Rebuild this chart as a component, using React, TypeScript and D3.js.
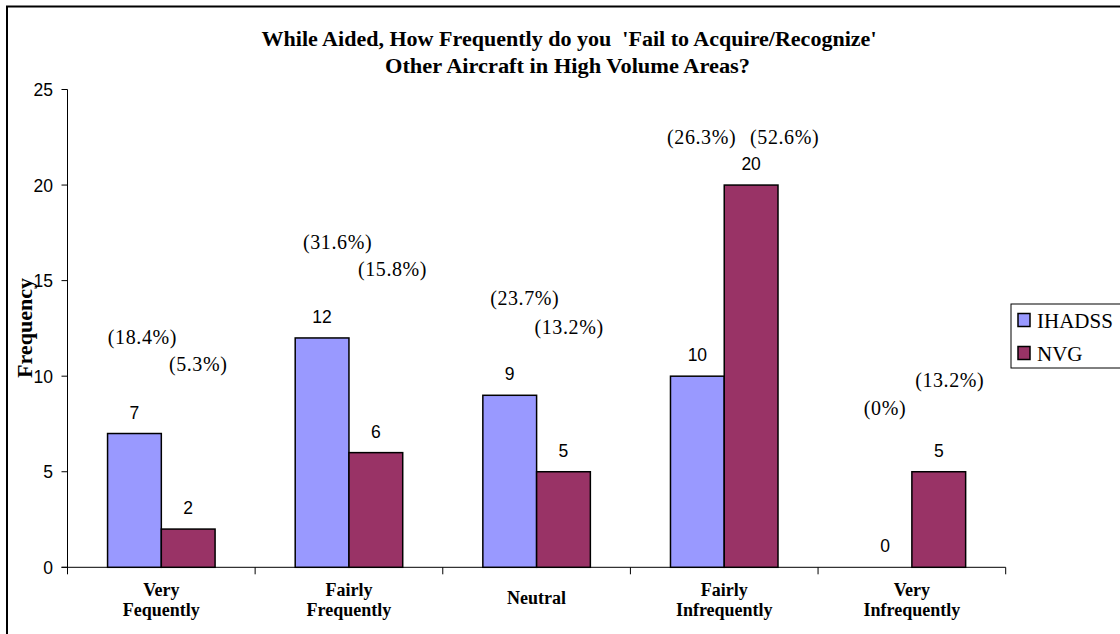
import React from "react";
import * as d3 from "d3";

const titleLines = [
  "While Aided, How Frequently do you\u00a0 'Fail to Acquire/Recognize'",
  "Other Aircraft in High Volume Areas?",
];
const categories = [
  ["Very", "Fequently"],
  ["Fairly", "Frequently"],
  ["Neutral"],
  ["Fairly", "Infrequently"],
  ["Very", "Infrequently"],
];
const seriesNames = ["IHADSS", "NVG"];
const seriesColors = ["#9999FF", "#993366"];
const ihadss = [7, 12, 9, 10, 0];
const nvg = [2, 6, 5, 20, 5];
const ihadssPct = ["(18.4%)", "(31.6%)", "(23.7%)", "(26.3%)", "(0%)"];
const nvgPct = ["(5.3%)", "(15.8%)", "(13.2%)", "(52.6%)", "(13.2%)"];
// heights (in frequency units) where the percentage annotations sit
const ihadssPctAt = [12.06, 17.03, 14.1, 22.53, 8.34];
const nvgPctAt = [10.63, 15.62, 12.58, 22.53, 9.81];
// horizontal nudges of the annotations from their bar centres
const ihadssPctShift = [8, 15.5, 15, 4.3, 0];
const nvgPctShift = [10, 16.7, 5.6, 33.5, 11];
const yTicks = [0, 5, 10, 15, 20, 25];

const SERIF = "'Liberation Serif', 'Times New Roman', serif";
const SANS = "'Liberation Sans', Arial, sans-serif";

export default function App() {
  const W = 1120;
  const H = 634;
  const left = 67.5;
  const right = 1005.7;
  const y = d3.scaleLinear().domain([0, 25]).range([567.3, 89.5]);
  const idx = categories.map((_, i) => i);
  const x0 = d3.scaleBand<number>().domain(idx).range([left, right]).padding(0);
  const groupW = x0.bandwidth() * 0.573;
  const x1 = d3
    .scaleBand<number>()
    .domain([0, 1])
    .range([(x0.bandwidth() - groupW) / 2, (x0.bandwidth() + groupW) / 2])
    .padding(0);
  const values = [ihadss, nvg];
  const pcts = [ihadssPct, nvgPct];
  const pctAt = [ihadssPctAt, nvgPctAt];
  const pctShift = [ihadssPctShift, nvgPctShift];
  const y0 = y(0);

  return (
    <svg
      width={W}
      height={H}
      style={{ position: "absolute", left: 0, top: 0, display: "block", background: "#fff" }}
    >
      <rect x={0} y={0} width={W} height={H} fill="#fff" />
      {/* outer frame */}
      <rect x={7} y={6.5} width={W + 20} height={H + 20} fill="none" stroke="#000" strokeWidth={2} />

      {/* title */}
      <text
        x={569}
        y={45.5}
        textAnchor="middle"
        fontFamily={SERIF}
        fontWeight="bold"
        fontSize={20}
        textLength={615}
        lengthAdjust="spacingAndGlyphs"
      >
        {titleLines[0]}
      </text>
      <text
        x={567.5}
        y={73}
        textAnchor="middle"
        fontFamily={SERIF}
        fontWeight="bold"
        fontSize={20}
        textLength={365}
        lengthAdjust="spacingAndGlyphs"
      >
        {titleLines[1]}
      </text>

      {/* y axis */}
      <line x1={left} x2={left} y1={y(25)} y2={y0} stroke="#000" strokeWidth={1} />
      {yTicks.map((t) => (
        <g key={t}>
          <line x1={left - 6} x2={left} y1={y(t)} y2={y(t)} stroke="#000" strokeWidth={1} />
          <text
            x={53}
            y={y(t) + 6.5}
            textAnchor="end"
            fontFamily={SANS}
            fontSize={17.5}
          >
            {t}
          </text>
        </g>
      ))}
      <text
        transform={`translate(32,328) rotate(-90)`}
        textAnchor="middle"
        fontFamily={SERIF}
        fontWeight="bold"
        fontSize={20}
        textLength={100}
        lengthAdjust="spacingAndGlyphs"
      >
        Frequency
      </text>

      {/* x axis */}
      <line x1={left - 6} x2={right} y1={y0} y2={y0} stroke="#000" strokeWidth={1} />
      {[...idx, idx.length].map((i) => {
        const xx = i < idx.length ? (x0(i) as number) : right;
        return <line key={i} x1={xx} x2={xx} y1={y0} y2={y0 + 7} stroke="#000" strokeWidth={1} />;
      })}
      {categories.map((lines, i) => {
        const cx = (x0(i) as number) + x0.bandwidth() / 2;
        const start = 604 - (lines.length - 1) * 8;
        return lines.map((ln, j) => (
          <text
            key={`${i}-${j}`}
            x={cx}
            y={start + j * 20}
            textAnchor="middle"
            fontFamily={SERIF}
            fontWeight="bold"
            fontSize={18}
          >
            {ln}
          </text>
        ));
      })}

      {/* bars */}
      {values.map((vals, s) =>
        vals.map((v, i) => {
          const bx = (x0(i) as number) + (x1(s) as number);
          const bw = x1.bandwidth();
          return (
            <g key={`${s}-${i}`}>
              {v > 0 && (
                <rect
                  x={bx}
                  y={y(v)}
                  width={bw}
                  height={y0 - y(v)}
                  fill={seriesColors[s]}
                  stroke="#000"
                  strokeWidth={1.5}
                />
              )}
              <text
                x={bx + bw / 2}
                y={y(v) - 15}
                textAnchor="middle"
                fontFamily={SANS}
                fontSize={17.5}
              >
                {v}
              </text>
              <text
                x={bx + bw / 2 + pctShift[s][i]}
                y={y(pctAt[s][i])}
                dy="0.35em"
                textAnchor="middle"
                fontFamily={SERIF}
                fontSize={20}
                letterSpacing={0.6}
              >
                {pcts[s][i]}
              </text>
            </g>
          );
        })
      )}

      {/* legend */}
      <rect x={1011} y={304} width={130} height={64} fill="#fff" stroke="#000" strokeWidth={1} />
      {seriesNames.map((n, s) => (
        <g key={n}>
          <rect
            x={1018}
            y={313.5 + s * 33}
            width={12}
            height={13}
            fill={seriesColors[s]}
            stroke="#000"
            strokeWidth={1.5}
          />
          <text x={1037} y={327.5 + s * 33} fontFamily={SERIF} fontSize={21}>
            {n}
          </text>
        </g>
      ))}
    </svg>
  );
}
